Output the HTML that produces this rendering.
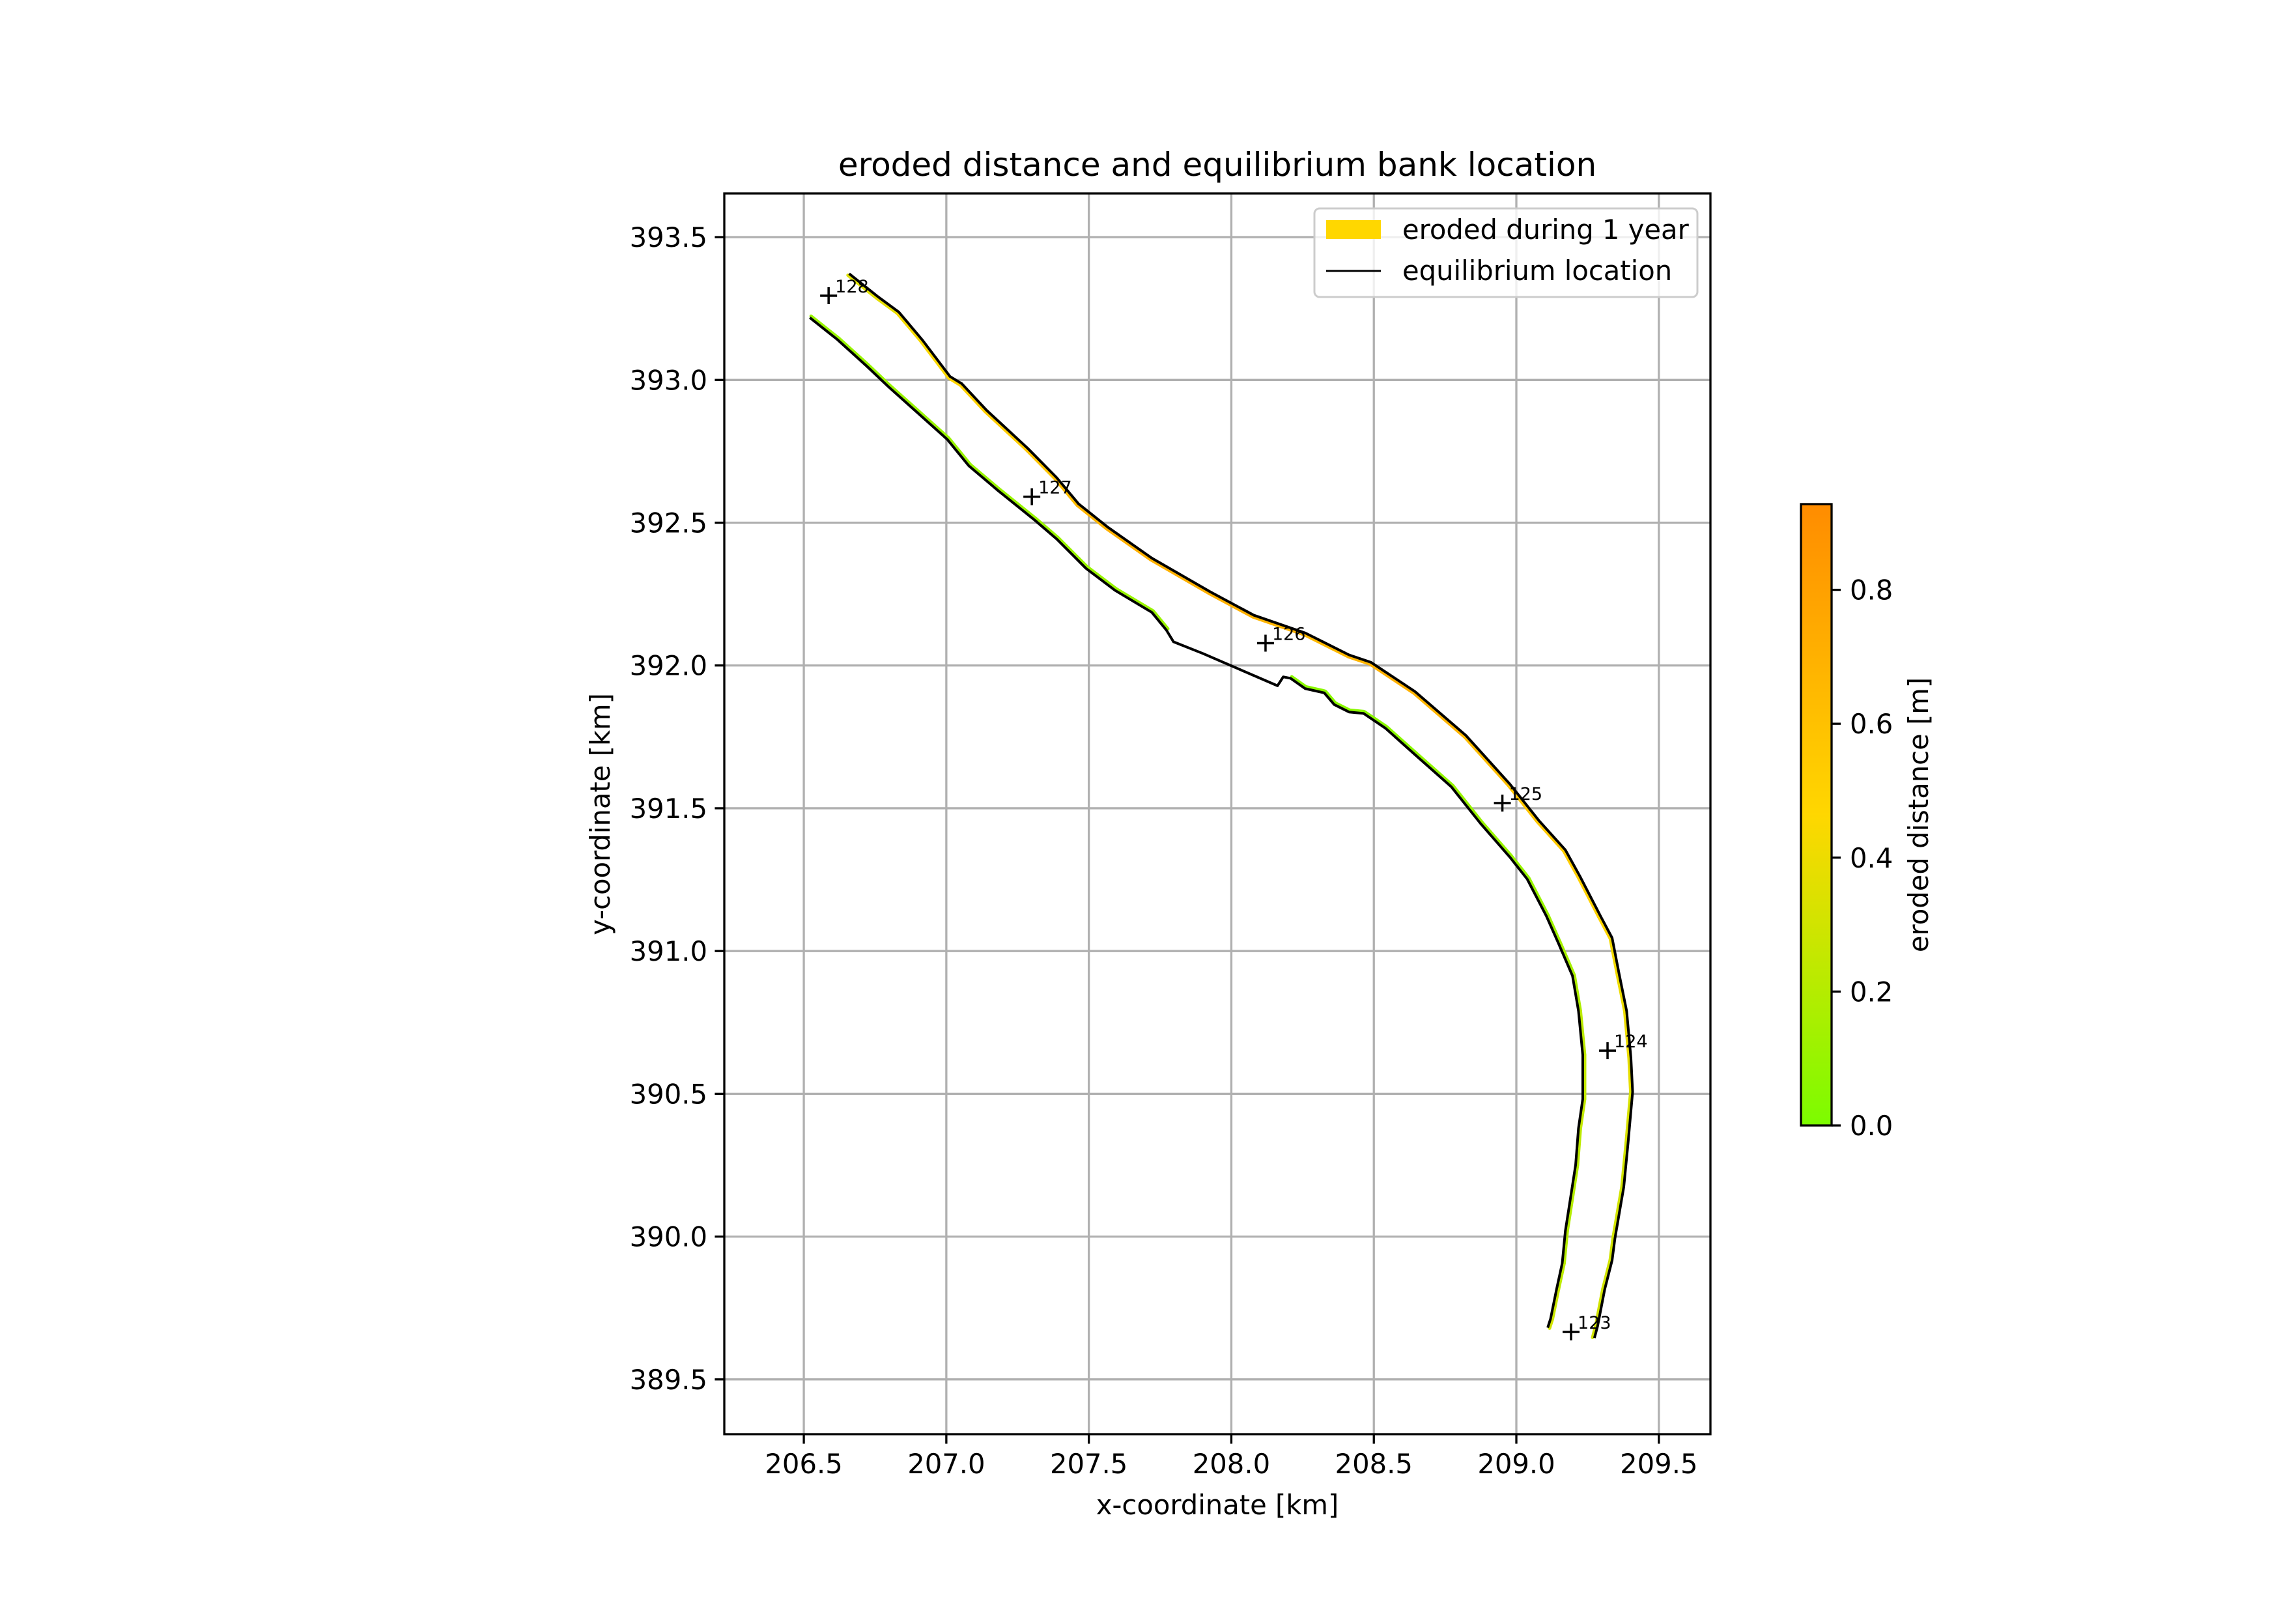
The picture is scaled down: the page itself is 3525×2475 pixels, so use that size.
<!DOCTYPE html>
<html><head><meta charset="utf-8"><style>
html,body{margin:0;padding:0;background:#fff}
svg{display:block;font-family:"DejaVu Sans","Liberation Sans",sans-serif}
</style></head><body>
<svg id="chart" width="3525" height="2475" viewBox="0 0 3525 2475" xmlns="http://www.w3.org/2000/svg">
<rect width="3525" height="2475" fill="#fff"/>
<defs>
<linearGradient id="cbg" x1="0" y1="1" x2="0" y2="0">
<stop offset="0" stop-color="#7CFC00"/><stop offset="0.5" stop-color="#FFD700"/><stop offset="1" stop-color="#FF8C00"/>
</linearGradient>
<clipPath id="axclip"><rect x="1112" y="297" width="1514" height="1905"/></clipPath>
</defs>
<g id="grid"></g>
<g id="marks" clip-path="url(#axclip)"></g>
<rect x="1112" y="297" width="1514" height="1905" fill="none" stroke="#000" stroke-width="3.3"/>
<g id="ticks"></g>
<text x="1869" y="270" font-size="50" text-anchor="middle">eroded distance and equilibrium bank location</text>
<text x="1869" y="2325" font-size="41.7" text-anchor="middle">x-coordinate [km]</text>
<text x="0" y="0" font-size="41.7" text-anchor="middle" transform="translate(936,1250) rotate(-90)">y-coordinate [km]</text>
<g>
<rect x="2018" y="320" width="588" height="136" rx="8" fill="#fff" fill-opacity="0.8" stroke="#ccc" stroke-width="3"/>
<rect x="2036" y="338" width="84" height="29" fill="#FFD700"/>
<text x="2153" y="367" font-size="41.7">eroded during 1 year</text>
<line x1="2036" y1="416" x2="2120" y2="416" stroke="#000" stroke-width="3"/>
<text x="2153" y="430" font-size="41.7">equilibrium location</text>
</g>
<g>
<rect x="2765" y="774" width="47" height="954" fill="url(#cbg)" stroke="#000" stroke-width="3.3"/>
<g id="cbticks"></g>
<text x="0" y="0" font-size="41.7" text-anchor="middle" transform="translate(2960,1251) rotate(-90)">eroded distance [m]</text>
</g>
</svg>
<script>
const xTicks=[206.5,207.0,207.5,208.0,208.5,209.0,209.5];
const yTicks=[389.5,390.0,390.5,391.0,391.5,392.0,392.5,393.0,393.5];
const cbTicks=[0.0,0.2,0.4,0.6,0.8];
const outerX=[206.659,206.762,206.833,206.915,207.013,207.054,207.141,207.285,207.387,207.464,207.567,207.721,207.926,208.079,208.259,208.413,208.490,208.644,208.823,208.977,209.079,209.172,209.223,209.295,209.336,209.361,209.387,209.402,209.408,209.392,209.377,209.346,209.336,209.310,209.285,209.274];
const outerY=[393.372,393.290,393.238,393.141,393.012,392.987,392.894,392.761,392.658,392.566,392.484,392.376,392.258,392.176,392.114,392.037,392.011,391.909,391.755,391.585,391.457,391.354,391.262,391.123,391.046,390.918,390.790,390.626,390.507,390.328,390.174,389.994,389.917,389.815,389.686,389.645];
const outerEroded=[0.35,0.35,0.4,0.45,0.45,0.5,0.5,0.55,0.6,0.65,0.7,0.7,0.7,0.7,0.65,0.65,0.7,0.7,0.65,0.6,0.55,0.55,0.5,0.5,0.45,0.4,0.4,0.4,0.35,0.3,0.3,0.3,0.3,0.3,0.3,0.3];
const innerX=[206.521,206.618,206.721,206.797,206.900,207.003,207.079,207.182,207.310,207.387,207.490,207.592,207.721,207.772,207.797,207.900,208.162,208.182,208.208,208.259,208.326,208.361,208.413,208.464,208.541,208.644,208.772,208.874,208.977,209.038,209.105,209.146,209.197,209.218,209.233,209.233,209.218,209.208,209.192,209.172,209.161,209.141,209.120,209.110];
const innerY=[393.218,393.141,393.048,392.976,392.884,392.792,392.699,392.612,392.509,392.443,392.340,392.263,392.186,392.124,392.083,392.042,391.929,391.960,391.955,391.919,391.904,391.863,391.837,391.832,391.780,391.688,391.575,391.447,391.329,391.252,391.123,391.031,390.913,390.790,390.636,390.482,390.379,390.251,390.148,390.020,389.907,389.815,389.712,389.681];
const innerEroded=[0.1,0.1,0.1,0.1,0.1,0.1,0.1,0.1,0.1,0.1,0.1,0.1,0.1,0.1,null,null,null,null,0.05,0.05,0.05,0.05,0.05,0.05,0.05,0.05,0.1,0.1,0.1,0.1,0.1,0.15,0.15,0.2,0.25,0.25,0.25,0.2,0.2,0.2,0.2,0.25,0.3,0.3];
const kmLabels=["128","127","126","125","124","123"];
const kmX=[206.587,207.300,208.120,208.951,209.320,209.192];
const kmY=[393.295,392.591,392.078,391.518,390.651,389.666];

const NS="http://www.w3.org/2000/svg";
const X0=1112,X1=2626,Y0=297,Y1=2202;
const xmin=206.221,xmax=209.681,ymin=389.308,ymax=393.653;
const cbMax=0.928,cbTop=774,cbBot=1728;
function sx(v){return X0+(v-xmin)/(xmax-xmin)*(X1-X0);}
function sy(v){return Y1-(v-ymin)/(ymax-ymin)*(Y1-Y0);}
function cby(v){return cbBot-v/cbMax*(cbBot-cbTop);}
function mk(tag,attrs,parent){const e=document.createElementNS(NS,tag);for(const k in attrs)e.setAttribute(k,attrs[k]);parent.appendChild(e);return e;}
function lerp(a,b,t){return Math.round(a+(b-a)*t);}
function cmap(v){const t=Math.max(0,Math.min(1,v/cbMax));let c;
 if(t<0.5){const u=t/0.5;c=[lerp(124,255,u),lerp(252,215,u),0];}else{const u=(t-0.5)/0.5;c=[255,lerp(215,140,u),0];}
 return `rgb(${c[0]},${c[1]},${c[2]})`;}
const grid=document.getElementById('grid'),ticks=document.getElementById('ticks'),marks=document.getElementById('marks');
xTicks.forEach(v=>{const x=sx(v);
 const g=mk('line',{x1:x,x2:x,y1:Y0,y2:Y1,stroke:'#b0b0b0','stroke-width':3.3},grid);
 
 
 const t=mk('line',{x1:x,x2:x,y1:Y1,y2:Y1+14.6,stroke:'#000','stroke-width':3.3},ticks);
 
 
 const l=mk('text',{x:x,y:Y1+60,'font-size':41.7,'text-anchor':'middle'},ticks);l.textContent=v.toFixed(1);
 
 });
yTicks.forEach(v=>{const y=sy(v);
 const g=mk('line',{x1:X0,x2:X1,y1:y,y2:y,stroke:'#b0b0b0','stroke-width':3.3},grid);
 
 
 const t=mk('line',{x1:X0-14.6,x2:X0,y1:y,y2:y,stroke:'#000','stroke-width':3.3},ticks);
 
 
 const l=mk('text',{x:X0-26,y:y+15,'font-size':41.7,'text-anchor':'end'},ticks);l.textContent=v.toFixed(1);
 
 });
const cbt=document.getElementById('cbticks');
cbTicks.forEach(v=>{const y=cby(v);
 const t=mk('line',{x1:2812,x2:2826,y1:y,y2:y,stroke:'#000','stroke-width':3.3},cbt);
 
 
 const l=mk('text',{x:2840,y:y+15,'font-size':41.7},cbt);l.textContent=v.toFixed(1);
 
 });
function drawBank(xs,ys,vals,side,name){
 const P=xs.map((x,i)=>[sx(x),sy(ys[i])]);
 for(let i=0;i<P.length-1;i++){const a=vals[i],b=vals[i+1];if(a==null||b==null)continue;
  const dx=P[i+1][0]-P[i][0],dy=P[i+1][1]-P[i][1],L=Math.hypot(dx,dy)||1;
  const nx=side*(-dy/L)*3,ny=side*(dx/L)*3;
  const s=mk('line',{x1:P[i][0]+nx,y1:P[i][1]+ny,x2:P[i+1][0]+nx,y2:P[i+1][1]+ny,stroke:cmap((a+b)/2),'stroke-width':5,'stroke-linecap':'round'},marks);
  
  }
 const pl=mk('polyline',{points:P.map(p=>p.join(',')).join(' '),fill:'none',stroke:'#000','stroke-width':4,'stroke-linejoin':'round'},marks);
 
 }
drawBank(outerX,outerY,outerEroded,1,'outer-bank');
drawBank(innerX,innerY,innerEroded,-1,'inner-bank');
kmLabels.forEach((lab,i)=>{const x=sx(kmX[i]),y=sy(kmY[i]);
 const m=mk('path',{d:`M${x-13},${y}H${x+13}M${x},${y-13}V${y+13}`,stroke:'#000','stroke-width':3.5},marks);
 
 
 const t=mk('text',{x:x+10,y:y-5,'font-size':27},marks);t.textContent=lab;
 
 });
</script>
</body></html>
